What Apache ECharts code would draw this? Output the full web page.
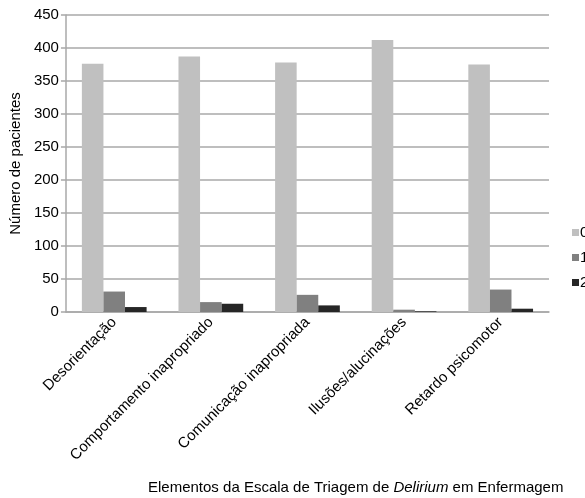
<!DOCTYPE html>
<html><head><meta charset="utf-8">
<script src="https://cdn.jsdelivr.net/npm/echarts@6/dist/echarts.min.js"></script>
<style>html,body{margin:0;padding:0;background:#fff}#c{width:585px;height:498px}</style>
</head><body><div id="c"></div>
<script>
const categories = ['Desorientação','Comportamento inapropriado','Comunicação inapropriada','Ilusões/alucinações','Retardo psicomotor'];
const seriesNames = ['0','1','2'];
const values0 = [376, 387, 378, 412, 375];
const values1 = [31, 15, 26, 3.5, 34];
const values2 = [7.5, 12.5, 10, 1, 5];
const colors = ['#c0c0c0','#808080','#262626'];
const yTicks = {min:0, max:450, interval:50};

const font = 'Liberation Sans, Arial, sans-serif';
const chart = echarts.init(document.getElementById('c'));
const data = [values0, values1, values2];
chart.setOption({
  animation:false,
  textStyle:{fontFamily:font},
  grid:{left:65, right:36, top:15, bottom:186, containLabel:false},
  legend:{orient:'vertical', left:572, top:225, padding:0, itemWidth:7, itemHeight:7, itemGap:10,
    icon:'rect', textStyle:{fontSize:15, color:'#000', fontFamily:font, padding:[0,0,0,-4]}, data:seriesNames},
  title:{text:'{a|Elementos da Escala de Triagem de }{b|Delirium}{a| em Enfermagem}', left:143, top:475,
    textStyle:{fontWeight:'normal', rich:{a:{fontSize:15,color:'#000',fontFamily:font},b:{fontSize:15,color:'#000',fontStyle:'italic',fontFamily:font}}}},
  xAxis:{type:'category', data:categories,
    axisLine:{lineStyle:{color:'#a8a8a8', width:1.5}},
    axisTick:{show:false},
    axisLabel:{rotate:45, fontSize:15, color:'#000', margin:8, interval:0, fontFamily:font}},
  yAxis:{type:'value', min:yTicks.min, max:yTicks.max, interval:yTicks.interval,
    name:'Número de pacientes', nameLocation:'middle', nameGap:42,
    nameTextStyle:{fontSize:15, color:'#000', fontFamily:font},
    axisLine:{show:true, lineStyle:{color:'#a8a8a8', width:1.5}},
    axisTick:{show:true, length:5, lineStyle:{color:'#a8a8a8', width:1.5}},
    axisLabel:{fontSize:15, color:'#000', margin:7, fontFamily:font},
    splitLine:{lineStyle:{color:'#a8a8a8', width:1.5}}},
  series: seriesNames.map((n,i)=>({name:n, type:'bar', data:data[i], barGap:'0%', barCategoryGap:'33%',
    itemStyle:{color:colors[i]}}))
});
</script></body></html>
